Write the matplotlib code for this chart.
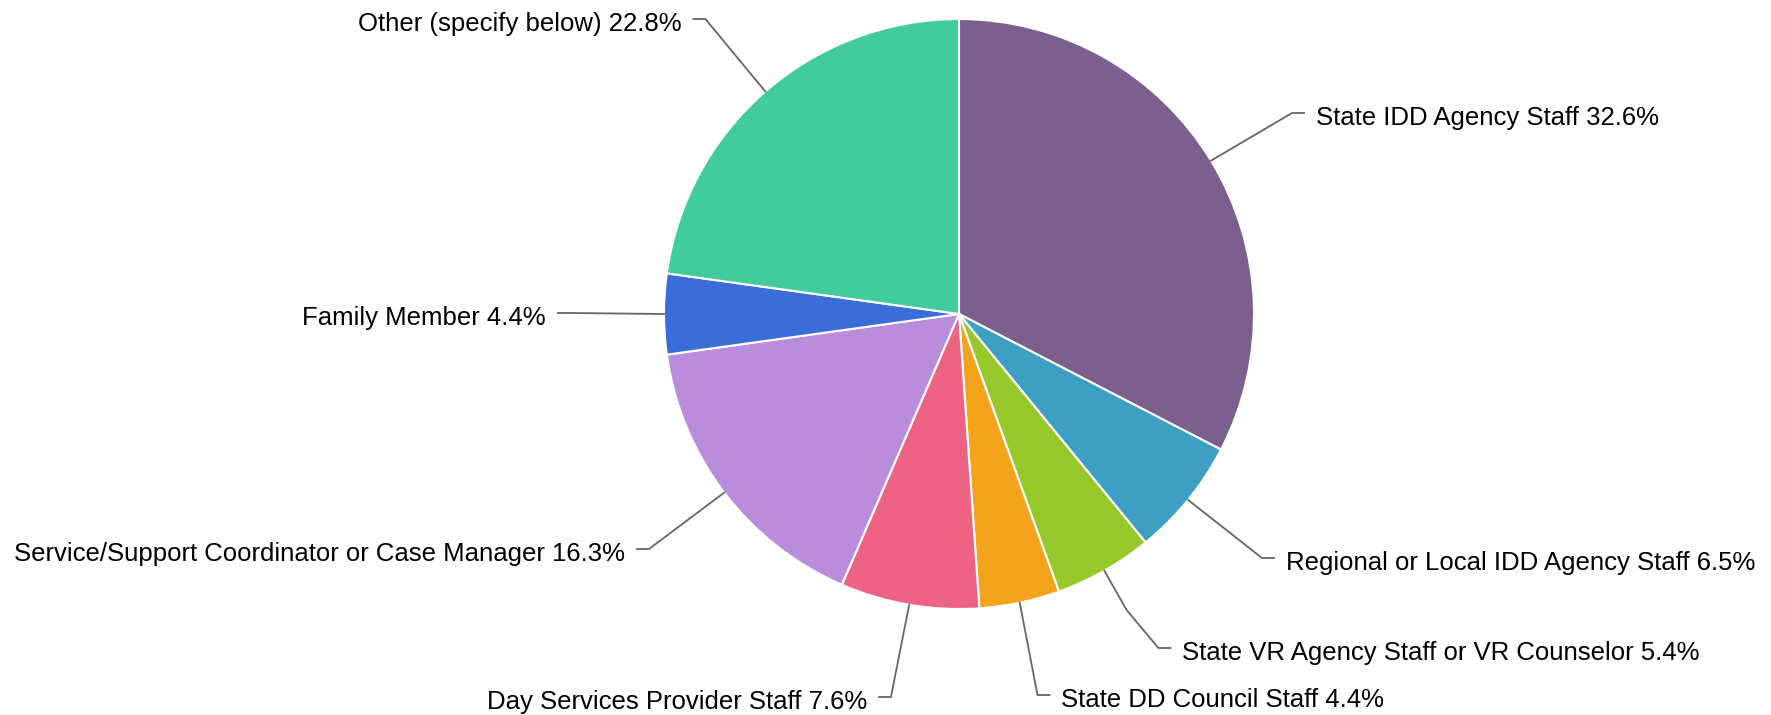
import numpy as np
import matplotlib
matplotlib.use("Agg")
import matplotlib.pyplot as plt

# ---- data ----
categories = [
    "State IDD Agency Staff",
    "Regional or Local IDD Agency Staff",
    "State VR Agency Staff or VR Counselor",
    "State DD Council Staff",
    "Day Services Provider Staff",
    "Service/Support Coordinator or Case Manager",
    "Family Member",
    "Other (specify below)",
]
values = [32.6, 6.5, 5.4, 4.4, 7.6, 16.3, 4.4, 22.8]
colors = ["#7b5f8e", "#3d9fc4", "#97c82a", "#f5a31a",
          "#ee6384", "#b98cdc", "#3a6dd8", "#42cc9e"]

# ---- layout (pixels, image coords: y downward) ----
W, H = 1771, 715
CX, CY_IMG, R = 959, 314, 295
LABEL_R = 389          # radius used to place label elbows
BREAK_R = R + 45       # connector break radius
label_y_img = [113, 558, 648, 695, 697, 549, 313, 19]

plt.rcParams['font.family'] = ['Liberation Sans', 'DejaVu Sans']

fig = plt.figure(figsize=(W / 100, H / 100), dpi=100)
ax = fig.add_axes([0, 0, 1, 1])
CY = H - CY_IMG

wedges, _ = ax.pie(values, colors=colors, radius=R, center=(CX, CY),
                   startangle=90, counterclock=False,
                   wedgeprops=dict(edgecolor="white", linewidth=1.5))
ax.set_xlim(0, W)
ax.set_ylim(0, H)
ax.set_aspect('equal')
ax.axis('off')

for w, cat, val, ly_img in zip(wedges, categories, values, label_y_img):
    mid = np.deg2rad((w.theta1 + w.theta2) / 2)
    ex, ey = CX + R * np.cos(mid), CY + R * np.sin(mid)
    bx, by = CX + BREAK_R * np.cos(mid), CY + BREAK_R * np.sin(mid)
    ly = H - ly_img
    side = 1 if np.cos(mid) >= 0 else -1
    dy = ly - CY
    dx = np.sqrt(max(LABEL_R ** 2 - dy ** 2, 0))
    lx = CX + side * dx
    a1 = np.degrees(np.arctan2(by - ey, bx - ex))
    a2 = np.degrees(np.arctan2(ly - by, lx - bx))
    diff = abs((a1 - a2 + 180) % 360 - 180)
    lx2 = lx + side * 12
    if diff < 5:
        xs, ys = [ex, lx, lx2], [ey, ly, ly]
    else:
        xs, ys = [ex, bx, lx, lx2], [ey, by, ly, ly]
    ax.plot(xs, ys, color="#666666", lw=1.3, solid_joinstyle='miter',
            zorder=1)
    ax.text(lx2 + side * 12, ly - 5, f"{cat} {val:.1f}%",
            ha='left' if side > 0 else 'right', va='center',
            fontsize=18.5, color="#000000")

fig.savefig("out.png", dpi=100)
